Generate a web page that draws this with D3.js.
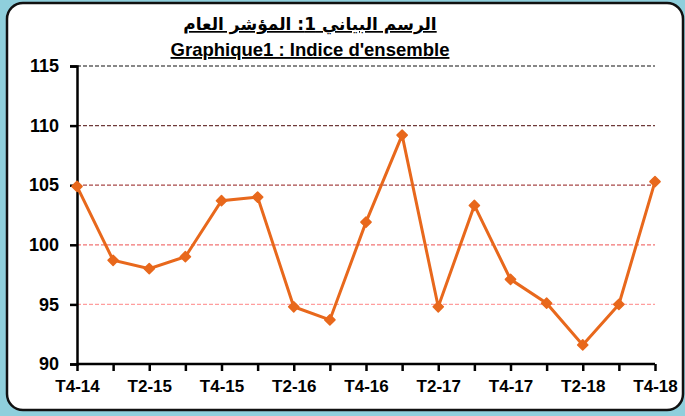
<!DOCTYPE html>
<html><head><meta charset="utf-8">
<script src="https://cdn.jsdelivr.net/npm/d3@7"></script>
<style>body{margin:0;background:#8fcfdc;}svg{display:block}</style>
</head><body>
<svg id="c" width="685" height="416"></svg>
<script>
const categories = ["T4-14","T1-15","T2-15","T3-15","T4-15","T1-16","T2-16","T3-16","T4-16","T1-17","T2-17","T3-17","T4-17","T1-18","T2-18","T3-18","T4-18"];
const values = [104.9, 98.7, 98.0, 99.0, 103.7, 104.0, 94.8, 93.7, 101.9, 109.2, 94.8, 103.3, 97.1, 95.1, 91.6, 95.0, 105.3];
const yTicks = [90, 95, 100, 105, 110, 115];
const gridColors = {95:"#ff9e9e", 100:"#f27474", 105:"#a84848", 110:"#6e3a3a", 115:"#111111"};
const titleAr = "الرسم البياني 1: المؤشر العام";
const titleFr = "Graphique1 : Indice d'ensemble";

const svg = d3.select("#c");
svg.append("rect").attr("width",685).attr("height",416).attr("fill","#8fcfdc");
svg.append("rect").attr("x",7).attr("y",3).attr("width",676).attr("height",407)
  .attr("rx",16).attr("fill","#fff").attr("stroke","#111").attr("stroke-width",2.5);

const x = d3.scalePoint().domain(categories).range([77,655]);
const y = d3.scaleLinear().domain([90,115]).range([364,66]);
const font = "Liberation Sans, Arial, sans-serif";

// grid
svg.append("g").selectAll("line").data(yTicks.filter(d=>d>90)).join("line")
  .attr("x1",77).attr("x2",655).attr("y1",d=>y(d)).attr("y2",d=>y(d))
  .attr("stroke",d=>gridColors[d]).attr("stroke-width",1.2).attr("stroke-dasharray","4,2");

// y axis
const ya = svg.append("g").attr("transform","translate(77,0)")
  .call(d3.axisLeft(y).tickValues(yTicks).tickSize(7).tickPadding(11));
ya.select(".domain").attr("stroke","#000").attr("stroke-width",2.5);
ya.selectAll(".tick line").attr("stroke","#000").attr("stroke-width",2.5);
ya.selectAll("text").attr("font-family",font)
  .attr("font-weight","bold").attr("font-size","18px").attr("fill","#000");

// x axis
const xa = svg.append("g").attr("transform","translate(0,364)")
  .call(d3.axisBottom(x).tickSize(7).tickPadding(9)
    .tickFormat((d,i)=> i%2===0 ? d : ""));
xa.select(".domain").attr("stroke","#000").attr("stroke-width",2.5).attr("d","M77,0H655");
xa.selectAll(".tick line").attr("stroke","#000").attr("stroke-width",2.5);
xa.selectAll("text").attr("font-family",font)
  .attr("font-weight","bold").attr("font-size","17px").attr("fill","#000");

// line
const col = "#e8681c";
svg.append("path").datum(values)
  .attr("d", d3.line().x((d,i)=>x(categories[i])).y(d=>y(d)))
  .attr("fill","none").attr("stroke",col).attr("stroke-width",3);
svg.append("g").selectAll("path").data(values).join("path")
  .attr("d", d3.symbol(d3.symbolSquare, 52)())
  .attr("transform",(d,i)=>`translate(${x(categories[i])},${y(d)}) rotate(45)`)
  .attr("fill",col).attr("stroke",col).attr("stroke-width",1.5).attr("stroke-linejoin","round");

// titles
svg.append("text").attr("x",310).attr("y",30).attr("text-anchor","middle")
  .attr("font-family","DejaVu Sans, sans-serif").attr("font-weight","bold")
  .attr("font-size","17px").attr("direction","rtl").attr("text-decoration","underline").text(titleAr);
svg.append("text").attr("x",310).attr("y",56).attr("text-anchor","middle")
  .attr("font-family",font).attr("font-weight","bold")
  .attr("font-size","18.5px").attr("text-decoration","underline").text(titleFr);
</script>
</body></html>
